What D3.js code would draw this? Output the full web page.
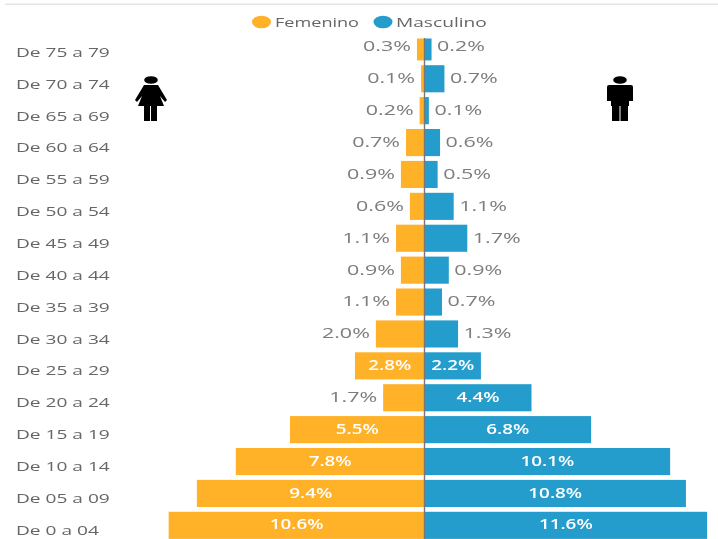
<!DOCTYPE html>
<html><head><meta charset="utf-8">
<script src="https://cdn.jsdelivr.net/npm/d3@7"></script>
<style>html,body{margin:0;padding:0;background:#fff}svg{display:block;filter:blur(.7px)}text{font-family:"Open Sans",sans-serif}</style>
</head><body><svg id="c" width="718" height="539"></svg>
<script>
const ages=["De 75 a 79","De 70 a 74","De 65 a 69","De 60 a 64","De 55 a 59","De 50 a 54","De 45 a 49","De 40 a 44","De 35 a 39","De 30 a 34","De 25 a 29","De 20 a 24","De 15 a 19","De 10 a 14","De 05 a 09","De 0 a 04"];
const femenino=[0.31,0.14,0.2,0.76,0.97,0.6,1.17,0.97,1.17,2.0,2.86,1.7,5.53,7.76,9.36,10.52];
const masculino=[0.29,0.82,0.18,0.64,0.54,1.2,1.76,1.0,0.72,1.38,2.32,4.4,6.85,10.1,10.75,11.62];
const femeninoLabels=["0.3%","0.1%","0.2%","0.7%","0.9%","0.6%","1.1%","0.9%","1.1%","2.0%","2.8%","1.7%","5.5%","7.8%","9.4%","10.6%"];
const masculinoLabels=["0.2%","0.7%","0.1%","0.6%","0.5%","1.1%","1.7%","0.9%","0.7%","1.3%","2.2%","4.4%","6.8%","10.1%","10.8%","11.6%"];
const insideF=[10,12,13,14,15], insideM=[10,11,12,13,14,15];
const orange="#ffb128", blue="#259dcc", gray="#7d7d7d";

const svg=d3.select("#c");
const cx=424.5, unit=24.32;
const xF=d3.scaleLinear().domain([0,1]).range([cx,cx-unit]);
const xM=d3.scaleLinear().domain([0,1]).range([cx,cx+unit]);
const y=d3.scaleBand().domain(ages).range([33.3,538.9]).paddingInner(.15).paddingOuter(0);
const rowLab=d3.scaleLinear().domain([0,15]).range([52,530]);

function stretched(sel,x,yy,sx,anchor){
  return sel.attr("text-anchor",anchor).attr("dominant-baseline","central")
    .attr("transform",(d,i)=>`translate(${x(d,i)},${yy(d,i)}) scale(${sx(d,i)},1)`);
}
svg.append("rect").attr("x",5).attr("y",3.5).attr("width",713).attr("height",1.5).attr("fill","#e4e4e4");
svg.append("defs").append("clipPath").attr("id","clip").append("rect").attr("x",0).attr("y",38.5).attr("width",718).attr("height",501);

const bars=svg.append("g").attr("clip-path","url(#clip)");
bars.selectAll(".f").data(femenino).join("rect").attr("fill",orange)
  .attr("x",d=>xF(d)).attr("width",d=>cx-xF(d)).attr("y",(d,i)=>y(ages[i])).attr("height",y.bandwidth());
bars.selectAll(".m").data(masculino).join("rect").attr("fill",blue)
  .attr("x",cx).attr("width",d=>xM(d)-cx).attr("y",(d,i)=>y(ages[i])).attr("height",y.bandwidth());
svg.append("line").attr("x1",cx).attr("x2",cx).attr("y1",38).attr("y2",539).attr("stroke","#777").attr("stroke-width",1.4);

// age labels
stretched(svg.selectAll(".a").data(ages).join("text").text(d=>d).attr("font-size",13).attr("fill","#666"),
  ()=>16,(d,i)=>rowLab(i),()=>1.47,"start");

// value labels
const ly=i=>y(ages[i])+y.bandwidth()/2-1.5;
stretched(svg.append("g").selectAll("text").data(femeninoLabels).join("text").text(d=>d)
  .attr("font-size",14.5).attr("fill",(d,i)=>insideF.includes(i)?"#fff":gray).attr("font-weight",(d,i)=>insideF.includes(i)?600:400),
  (d,i)=>insideF.includes(i)?(cx+xF(femenino[i]))/2:xF(femenino[i])-6,(d,i)=>ly(i),(d,i)=>insideF.includes(i)?1.3:1.48,null)
  .attr("text-anchor",(d,i)=>insideF.includes(i)?"middle":"end");
stretched(svg.append("g").selectAll("text").data(masculinoLabels).join("text").text(d=>d)
  .attr("font-size",14.5).attr("fill",(d,i)=>insideM.includes(i)?"#fff":gray).attr("font-weight",(d,i)=>insideM.includes(i)?600:400),
  (d,i)=>insideM.includes(i)?(cx+xM(masculino[i]))/2:xM(masculino[i])+5.5,(d,i)=>ly(i),(d,i)=>insideM.includes(i)?1.3:1.48,null)
  .attr("text-anchor",(d,i)=>insideM.includes(i)?"middle":"start");

// legend
const legendNames=["Femenino","Masculino"], legendColors=[orange,blue], legendDot=[261.5,383], legendText=[275,396], legendStretch=[1.34,1.42];
const lg=svg.append("g").selectAll("g").data(legendNames).join("g");
lg.append("ellipse").attr("cx",(d,i)=>legendDot[i]).attr("cy",22).attr("rx",9.5).attr("ry",6.3).attr("fill",(d,i)=>legendColors[i]);
lg.append("text").text(d=>d).attr("font-size",13.5).attr("fill","#666").attr("dominant-baseline","central")
  .attr("transform",(d,i)=>`translate(${legendText[i]},22) scale(${legendStretch[i]},1)`);

// pictograms
const fIcon=svg.append("g").attr("fill","#000");
fIcon.append("ellipse").attr("cx",151).attr("cy",80).attr("rx",6.8).attr("ry",3.8);
fIcon.append("path").attr("d","M144 85H158L167 100L165 102L160 96L164 106H138L142 96L137 102L135 100Z");
fIcon.append("rect").attr("x",144).attr("y",105).attr("width",6).attr("height",16);
fIcon.append("rect").attr("x",151).attr("y",105).attr("width",6).attr("height",16);
const mIcon=svg.append("g").attr("fill","#000");
mIcon.append("ellipse").attr("cx",620).attr("cy",80).attr("rx",6.8).attr("ry",3.8);
mIcon.append("path").attr("d","M609 85H631Q633 85 633 87V101H629V106H628V121H620.5V106H619.5V121H612V106H611V101H607V87Q607 85 609 85Z");
</script></body></html>
